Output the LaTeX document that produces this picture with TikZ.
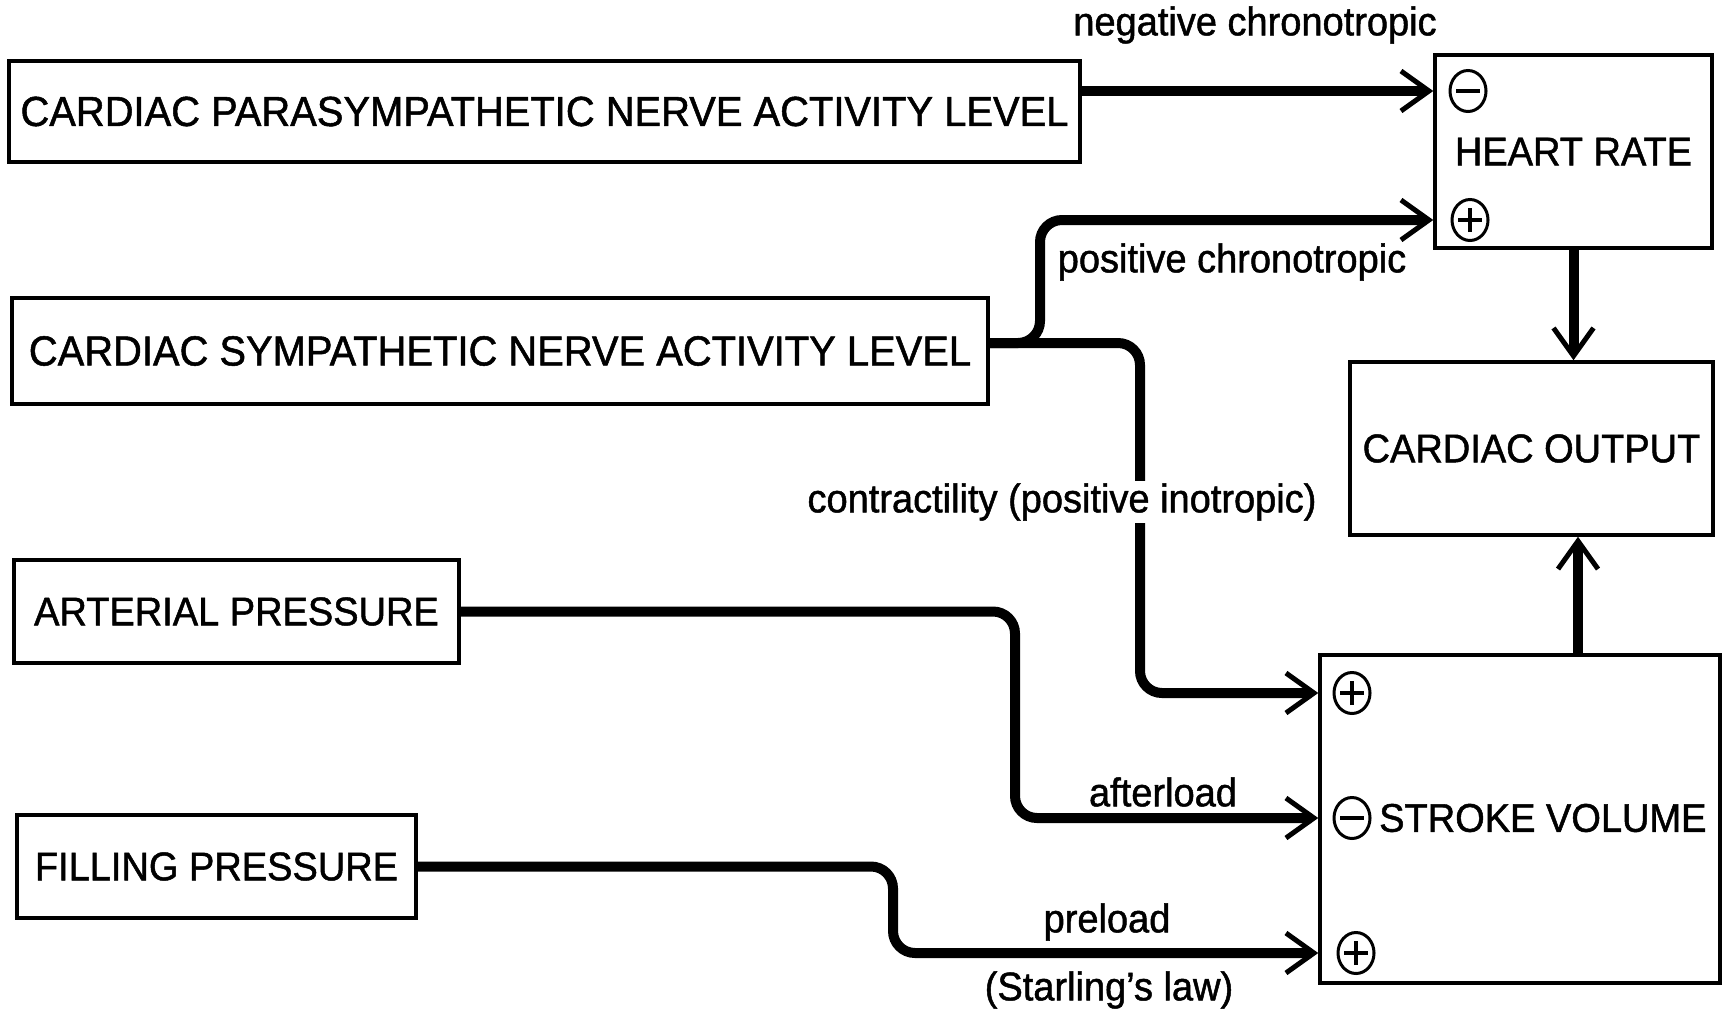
\documentclass[tikz,border=0pt]{standalone}
\usepackage{fontspec}
\setmainfont[FakeStretch=0.95, FakeBold=1.2]{Liberation Sans}
\usetikzlibrary{arrows.meta,shapes.geometric}
\begin{document}
\begin{tikzpicture}[x=1pt, y=-1pt,
	every node/.style={font=\fontsize{40}{44}\selectfont},
	box/.style={draw, line width=3.5pt, inner sep=0pt},
	wide/.style={font=\fontsize{42}{46}\selectfont},
	sign/.style={draw, ellipse, line width=3pt, inner sep=0pt, minimum width=36pt, minimum height=41pt},
	link/.style={line width=10pt, rounded corners=22pt, -{Straight Barb[length=28pt, width=40pt, line width=5pt]}},
	note/.style={inner sep=2pt}]
\path[use as bounding box, fill=white] (0,0) rectangle (1723,1010);
%
\node[box, wide, minimum width=1071pt, minimum height=101pt] (para) at (544.5,111.5) {CARDIAC PARASYMPATHETIC NERVE ACTIVITY LEVEL};
\node[box, wide, minimum width=976pt, minimum height=106pt] (symp) at (500,351) {CARDIAC SYMPATHETIC NERVE ACTIVITY LEVEL};
\node[box, minimum width=445pt, minimum height=103pt] (art) at (236.5,611.5) {ARTERIAL PRESSURE};
\node[box, minimum width=399pt, minimum height=103pt] (fill) at (216.5,866.5) {FILLING PRESSURE};
\node[box, minimum width=277pt, minimum height=193pt] (hr) at (1573.5,151.5) {HEART RATE};
\node[box, minimum width=363pt, minimum height=173pt] (co) at (1531.5,448.5) {CARDIAC OUTPUT};
\node[box, minimum width=400pt, minimum height=328pt] (sv) at (1520,819) {};
\node[anchor=west, inner sep=0pt] (svlbl) at (1379,818) {STROKE VOLUME};
%
\node[sign] (hrneg) at (1468,91) {};
\node[sign] (hrpos) at (1470,220) {};
\node[sign] (svpos) at (1352,693) {};
\node[sign] (svneg) at (1352,818) {};
\node[sign] (svpre) at (1356,953) {};
\foreach \s in {hrneg, hrpos, svpos, svneg, svpre}
	\draw[line width=3.5pt] ([xshift=-12pt]\s.center) -- ([xshift=12pt]\s.center);
\foreach \s in {hrpos, svpos, svpre}
	\draw[line width=3.5pt] ([yshift=-12pt]\s.center) -- ([yshift=12pt]\s.center);
%
\coordinate (sympout) at ([yshift=8pt]symp.east);
\draw[link] (hrneg -| para.east) -- (hrneg -| hr.west);
\draw[link] (sympout) -- (1040,343) -- (1040,220) -- (hrpos -| hr.west);
\draw[link] (sympout) -- (1140,343) -- (1140,693) -- (svpos -| sv.west);
\draw[link] (art.east) -- (1015,611.5) -- (1015,818) -- (svneg -| sv.west);
\draw[link] (fill.east) -- (893,866.5) -- (893,953) -- (svpre -| sv.west);
\draw[link] (hr.south) -- (hr.south |- co.north);
\draw[link] ([xshift=58pt]sv.north) -- ([xshift=58pt]sv.north |- co.south);
%
\node[note] (negchr) at (1255,25) {negative chronotropic};
\node[note] (poschr) at (1232,262) {positive chronotropic};
\node[note, fill=white] (contr) at (1062,502) {contractility (positive inotropic)};
\node[note] (after) at (1163,792) {afterload};
\node[note] (pre) at (1107,922) {preload};
\node[note] (starl) at (1109,990) {(Starling's law)};
\end{tikzpicture}
\end{document}
